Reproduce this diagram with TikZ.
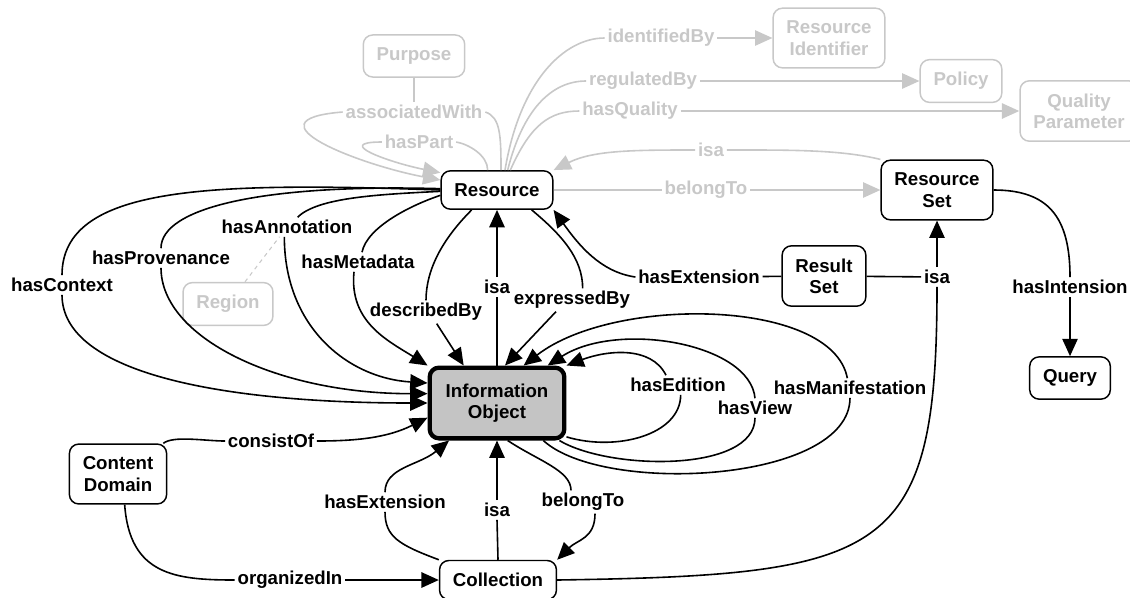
\documentclass[tikz,border=0pt]{standalone}
\usepackage{fontspec}
\setmainfont{Liberation Sans}
\usetikzlibrary{arrows.meta}
\definecolor{faded}{RGB}{200,200,200}
\definecolor{iofill}{RGB}{196,196,196}
\tikzset{concept/.style={draw, rounded corners=7pt, line width=1.1pt, fill=white, align=center,
    inner xsep=10pt, inner ysep=9.5pt, font=\fontsize{14}{16}\selectfont\bfseries}}
\tikzset{gconcept/.style={concept, draw=faded, text=faded}}
\tikzset{rel/.style={inner sep=2pt, font=\fontsize{14}{16}\selectfont\bfseries}}
\tikzset{grel/.style={rel, text=faded}}
\tikzset{link/.style={line width=1.2pt, color=black}}
\tikzset{glink/.style={line width=1.2pt, color=faded}}
\tikzset{arrowed/.style={-{Triangle[length=13pt,width=11.5pt]}}}

\begin{document}
\begin{tikzpicture}[x=0.75pt, y=-0.75pt]
        \useasboundingbox (0,0) rectangle (1130,597);

        % concepts
        \node[concept] (res) at (497,190) {Resource};
        \node[concept] (rset) at (937,190) {Resource\\Set};
        \node[concept] (rres) at (824,276) {Result\\Set};
        \node[concept] (query) at (1070,378) {Query};
        \node[concept, fill=iofill, line width=3.2pt, inner xsep=12pt, inner ysep=12pt] (io) at (497,403) {Information\\Object};
        \node[concept] (cdom) at (118,474) {Content\\Domain};
        \node[concept] (coll) at (498,580) {Collection};

        \node[gconcept] (purp) at (414,56) {Purpose};
        \node[gconcept] (rid) at (829,38) {Resource\\Identifier};
        \node[gconcept] (pol) at (961,81) {Policy};
        \node[gconcept] (qual) at (1079,111) {Quality\\Parameter};
        \node[gconcept] (reg) at (228,304) {Region};

        % relation labels
        \node[grel] (lAssoc) at (414,112) {associatedWith};
        \node[grel] (lPart) at (419,142) {hasPart};
        \node[grel] (lIdent) at (661,38) {identifiedBy};
        \node[grel] (lReg) at (643,81) {regulatedBy};
        \node[grel] (lQual) at (630,111) {hasQuality};
        \node[grel] (lIsaG) at (711,150) {isa};
        \node[grel] (lBelG) at (706,190) {belongTo};

        \node[rel] (lCtx) at (62,285) {hasContext};
        \node[rel] (lProv) at (161,258) {hasProvenance};
        \node[rel] (lAnn) at (287,227) {hasAnnotation};
        \node[rel] (lMeta) at (358,262) {hasMetadata};
        \node[rel] (lDesc) at (426,312) {describedBy};
        \node[rel] (lIsa1) at (497,287) {isa};
        \node[rel] (lExpr) at (572,300) {expressedBy};
        \node[rel] (lExt1) at (699,277) {hasExtension};
        \node[rel] (lIsa2) at (937,277) {isa};
        \node[rel] (lInt) at (1070,287) {hasIntension};
        \node[rel] (lEd) at (678,385) {hasEdition};
        \node[rel] (lView) at (755,408) {hasView};
        \node[rel] (lMan) at (850,388) {hasManifestation};
        \node[rel] (lCons) at (271,441) {consistOf};
        \node[rel] (lOrg) at (290,580) {organizedIn};
        \node[rel] (lExt2) at (385,502) {hasExtension};
        \node[rel] (lIsa3) at (497,510) {isa};
        \node[rel] (lBel) at (583,502) {belongTo};

        % faded relations around Resource
        \draw[glink] (purp) -- (lAssoc);
        \draw[glink] ([xshift=3pt]res.north) .. controls +(0,-35) and +(15,5) .. (lAssoc.east);
        \draw[glink, arrowed] (lAssoc.west) .. controls +(-100,8) and +(-80,-15) .. (res.170);
        \draw[glink] ([xshift=-7pt]res.north) .. controls +(0,-15) and +(12,2) .. (lPart.east);
        \draw[glink, arrowed] (lPart.west) .. controls +(-50,0) and +(-50,-10) .. (res.163);
        \draw[glink] ([xshift=6pt]res.north) .. controls +(15,-90) and +(-40,0) .. (lIdent.west);
        \draw[glink, arrowed] (lIdent) -- (rid);
        \draw[glink] ([xshift=8pt]res.north) .. controls +(15,-60) and +(-35,0) .. (lReg.west);
        \draw[glink, arrowed] (lReg) -- (pol);
        \draw[glink] ([xshift=10pt]res.north) .. controls +(20,-45) and +(-30,0) .. (lQual.west);
        \draw[glink, arrowed] (lQual) -- (qual);
        \draw[glink] (rset.north west) .. controls +(-40,-10) and +(60,0) .. (lIsaG.east);
        \draw[glink, arrowed] (lIsaG.west) .. controls +(-60,0) and +(40,-20) .. (res.north east);
        \draw[glink] (res) -- (lBelG);
        \draw[glink, arrowed] (lBelG) -- (rset);
        \draw[glink, line width=0.8pt, dashed] (reg) -- (lAnn);

        % Resource -> Information Object
        \draw[link] (res.west) .. controls +(-230,-8) and +(0,-90) .. (lCtx.north);
        \draw[link, arrowed] (lCtx.south) .. controls +(0,80) and +(-200,0) .. (io.west);
        \draw[link] ([yshift=1pt]res.west) .. controls +(-180,-5) and +(0,-40) .. (lProv.north);
        \draw[link, arrowed] (lProv.south) .. controls +(0,70) and +(-150,0) .. ([yshift=7pt]io.west);
        \draw[link] ([xshift=8pt]lAnn.north) .. controls +(20,-20) and +(-60,3) .. ([yshift=-1pt]res.west);
        \draw[link, arrowed] ([xshift=-2pt]lAnn.south) .. controls +(0,90) and +(-80,-5) .. ([yshift=15pt]io.west);
        \draw[link] ([xshift=3pt]lMeta.north) .. controls +(5,-25) and +(-30,10) .. ([yshift=-4pt]res.west);
        \draw[link, arrowed] ([xshift=-3pt]lMeta.south) .. controls +(-5,50) and +(-40,-25) .. (io.north west);
        \draw[link] ([xshift=-19pt]res.south) .. controls +(-30,30) and +(0,-30) .. (lDesc.north);
        \draw[link, arrowed] ([xshift=8pt]lDesc.south) -- ([xshift=-25pt]io.north);
        \draw[link] (io.north) -- (lIsa1.south);
        \draw[link, arrowed] (lIsa1.north) -- (res.south);
        \draw[link] ([xshift=26pt]res.south) .. controls +(30,25) and +(0,-30) .. ([xshift=8pt]lExpr.north);
        \draw[link, arrowed] ([xshift=-12pt]lExpr.south) -- ([xshift=6pt]io.north);

        % Result Set, Resource Set, Query
        \draw[link] (rres) -- (lExt1);
        \draw[link, arrowed] (lExt1.west) .. controls +(-35,-5) and +(25,35) .. (res.south east);
        \draw[link] (rres) -- (lIsa2);
        \draw[link, arrowed] (lIsa2.north) -- (rset.south);
        \draw[link] (coll.east) .. controls +(330,-5) and +(0,270) .. (lIsa2.south);
        \draw[link] (rset.east) .. controls +(55,0) and +(0,-60) .. (lInt.north);
        \draw[link, arrowed] (lInt.south) -- (query.north);

        % loops on Information Object
        \draw[link] (io.-26) .. controls +(50,15) and +(0,40) .. ([xshift=2pt]lEd.south);
        \draw[link, arrowed] ([xshift=-9pt]lEd.north) .. controls +(-15,-30) and +(40,-15) .. (io.north east);
        \draw[link] (io.-31) .. controls +(50,30) and +(0,55) .. (lView.south);
        \draw[link, arrowed] (lView.north) .. controls +(-5,-55) and +(70,-45) .. ([xshift=38pt]io.north);
        \draw[link] (io.-39) .. controls +(60,55) and +(0,85) .. (lMan.south);
        \draw[link, arrowed] ([xshift=-2pt]lMan.north) .. controls +(-15,-80) and +(90,-70) .. ([xshift=20pt]io.north);

        % Content Domain and Collection
        \draw[link] ([xshift=-3pt]cdom.north east) .. controls +(10,-8) and +(-20,0) .. (lCons.west);
        \draw[link, arrowed] (lCons.east) .. controls +(40,0) and +(-40,20) .. ([yshift=-11pt]io.west);
        \draw[link] ([xshift=5pt]cdom.south) .. controls +(5,70) and +(-60,0) .. (lOrg.west);
        \draw[link, arrowed] (lOrg) -- (coll);
        \draw[link] (coll.north west) .. controls +(-40,-15) and +(0,25) .. (lExt2.south);
        \draw[link, arrowed] (lExt2.north) .. controls +(0,-25) and +(-30,25) .. ([xshift=-36pt]io.south);
        \draw[link] (coll.north) -- (lIsa3.south);
        \draw[link, arrowed] (lIsa3.north) -- (io.south);
        \draw[link] ([xshift=8pt]io.south) .. controls +(30,20) and +(0,-20) .. ([xshift=-9pt]lBel.north);
        \draw[link, arrowed] ([xshift=9pt]lBel.south) .. controls +(0,25) and +(20,-20) .. (coll.north east);
    \end{tikzpicture}
\end{document}
